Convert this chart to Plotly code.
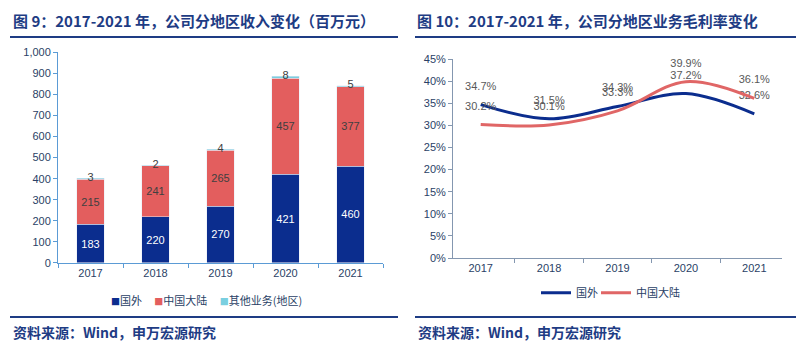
import plotly.graph_objects as go

# ---- data ----
years = ["2017", "2018", "2019", "2020", "2021"]
rev_overseas = [183, 220, 270, 421, 460]
rev_mainland = [215, 241, 265, 457, 377]
rev_other = [3, 2, 4, 8, 5]

gm_overseas = [34.7, 31.5, 34.3, 37.2, 32.6]
gm_mainland = [30.2, 30.1, 33.3, 39.9, 36.1]

W, H = 804, 349
NAVY = "#0B2D8E"
RED = "#E35E5E"
LINE_RED = "#E06666"
CYAN = "#7ACFE0"
TITLE = "#1E3C84"
TICK = "#2A3F66"
AXIS_L = "#5B9BD5"
AXIS_R = "#8497B0"
FONT = "Liberation Sans, Arial, sans-serif"
CJK = "Noto Sans CJK SC, sans-serif"


def px_x(x):
    return x / W


def px_y(y):
    return 1 - y / H


fig = go.Figure()

# ---- stacked revenue bars ----
fig.add_bar(x=years, y=rev_overseas, name="国外", marker_color=NAVY,
            text=[str(v) for v in rev_overseas], textposition="inside",
            insidetextanchor="middle", textangle=0,
            textfont=dict(color="white", size=11, family=FONT),
            showlegend=False, xaxis="x", yaxis="y")
fig.add_bar(x=years, y=rev_mainland, name="中国大陆", marker_color=RED,
            text=[str(v) for v in rev_mainland], textposition="inside",
            insidetextanchor="middle", textangle=0,
            textfont=dict(color="#404040", size=11, family=FONT),
            showlegend=False, xaxis="x", yaxis="y")
fig.add_bar(x=years, y=rev_other, name="其他业务(地区)", marker_color=CYAN,
            showlegend=False, xaxis="x", yaxis="y")

# labels for the thin top segment, centred on the bar tops
totals = [a + b + c for a, b, c in zip(rev_overseas, rev_mainland, rev_other)]
fig.add_scatter(x=years, y=totals, mode="text", text=[str(v) for v in rev_other],
                textposition="middle center",
                textfont=dict(color="#404040", size=11, family=FONT),
                showlegend=False, hoverinfo="skip", xaxis="x", yaxis="y")

# ---- gross margin lines (transparent markers push the labels upward) ----
for vals, name, color, leg in [(gm_overseas, "国外", NAVY, "legend2"),
                               (gm_mainland, "中国大陆", LINE_RED, "legend3")]:
    fig.add_scatter(x=years, y=[v / 100 for v in vals], name=name,
                    mode="lines+markers+text",
                    line=dict(color=color, width=3, shape="spline", smoothing=1),
                    marker=dict(size=18, color="rgba(0,0,0,0)"),
                    text=[f"{v:.1f}%" for v in vals], textposition="top center",
                    textfont=dict(color="#595959", size=11, family=FONT),
                    xaxis="x2", yaxis="y2", legend=leg)

axis_font = dict(family=FONT, size=11, color=TICK)
leg_common = dict(orientation="h", xanchor="left", y=px_y(297), yanchor="middle",
                  font=dict(family=CJK, size=11, color=TICK), itemwidth=30,
                  bgcolor="rgba(0,0,0,0)")

fig.update_layout(
    width=W, height=H, margin=dict(l=0, r=0, t=0, b=0),
    paper_bgcolor="white", plot_bgcolor="white",
    barmode="stack", bargap=0.58,
    font=dict(family=FONT),
    xaxis=dict(domain=[px_x(58), px_x(383)], type="category", tickson="boundaries",
               ticks="outside", ticklen=4, tickcolor=AXIS_L, showline=True,
               linecolor=AXIS_L, linewidth=1, showgrid=False, tickfont=axis_font,
               anchor="y"),
    yaxis=dict(domain=[px_y(266), px_y(48)], range=[0, 1000], dtick=100,
               tickformat=",", ticks="outside", ticklen=4, tickcolor=AXIS_L,
               showline=True, linecolor=AXIS_L, linewidth=1, showgrid=False,
               zeroline=False, tickfont=axis_font, anchor="x"),
    xaxis2=dict(domain=[px_x(453), px_x(782)], type="category", tickson="boundaries",
                ticks="outside", ticklen=4, tickcolor=AXIS_R, showline=True,
                linecolor=AXIS_R, linewidth=1, showgrid=False, tickfont=axis_font,
                anchor="y2"),
    yaxis2=dict(domain=[px_y(261), px_y(55)], range=[0, 0.45], dtick=0.05,
                tickformat=".0%", ticks="outside", ticklen=4, tickcolor=AXIS_R,
                showline=True, linecolor=AXIS_R, linewidth=1, showgrid=False,
                zeroline=False, tickfont=axis_font, anchor="x2"),
    legend2=dict(x=px_x(536), **leg_common),
    legend3=dict(x=px_x(596), **leg_common),
)

# ---- bar legend: small colour squares followed by the series names ----
sq = '<span style="color:{c};font-size:9px">■</span>'
legend_text = "&nbsp;&nbsp;&nbsp;&nbsp;&nbsp;".join(
    sq.format(c=c) + n for c, n in [(NAVY, "国外"), (RED, "中国大陆"), (CYAN, "其他业务(地区)")]
)
fig.add_annotation(text=legend_text, x=px_x(206), y=px_y(304), xref="paper", yref="paper",
                   xanchor="center", yanchor="middle", showarrow=False,
                   font=dict(family=CJK, size=11, color=TICK))

# ---- headings, rules and source lines ----
title_font = dict(family=CJK, size=15, color=TITLE)
fig.add_annotation(text="<b>图 9：2017-2021 年，公司分地区收入变化（百万元）</b>",
                   x=px_x(11), y=px_y(15), xref="paper", yref="paper",
                   xanchor="left", yanchor="middle", showarrow=False, font=title_font)
fig.add_annotation(text="<b>图 10：2017-2021 年，公司分地区业务毛利率变化</b>",
                   x=px_x(415), y=px_y(15), xref="paper", yref="paper",
                   xanchor="left", yanchor="middle", showarrow=False, font=title_font)
for x0, x1 in [(10, 398), (415, 796)]:
    fig.add_shape(type="line", xref="paper", yref="paper", x0=px_x(x0), x1=px_x(x1),
                  y0=px_y(32), y1=px_y(32), line=dict(color=TITLE, width=2))
    fig.add_shape(type="line", xref="paper", yref="paper", x0=px_x(x0), x1=px_x(x1),
                  y0=px_y(322), y1=px_y(322), line=dict(color=TITLE, width=2))
    fig.add_annotation(text="<b>资料来源：Wind，申万宏源研究</b>",
                       x=px_x(x0 + 1), y=px_y(338), xref="paper", yref="paper",
                       xanchor="left", yanchor="middle", showarrow=False,
                       font=dict(family=CJK, size=14, color=TITLE))

fig.write_html("out.html")
